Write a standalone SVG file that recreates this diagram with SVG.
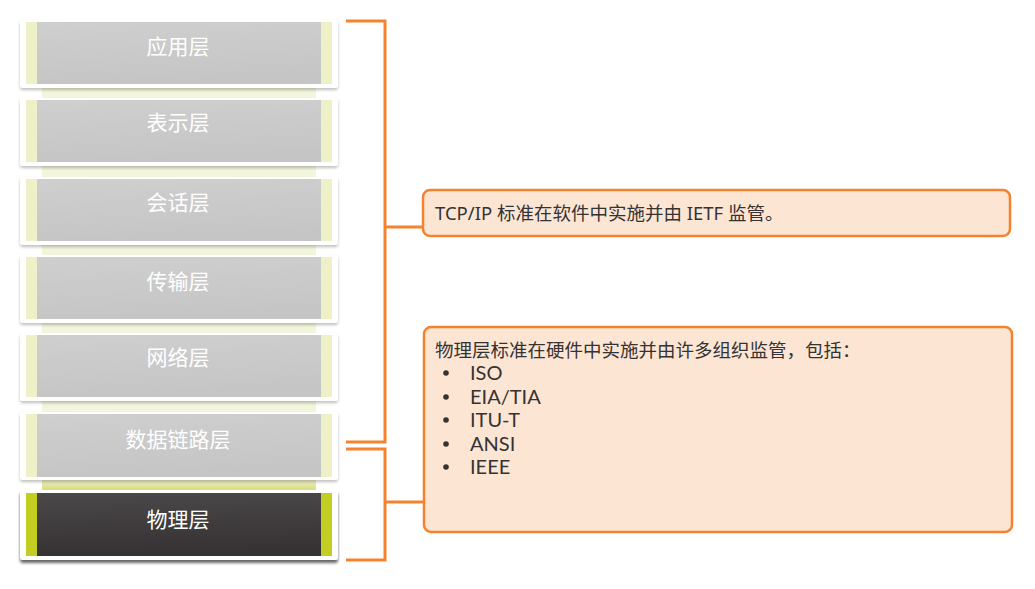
<svg xmlns="http://www.w3.org/2000/svg" width="1035" height="589" viewBox="0 0 1035 589">
<defs>
<linearGradient id="gGray" x1="0" y1="0" x2="0.2" y2="1"><stop offset="0" stop-color="#cfcfcf"/><stop offset="1" stop-color="#c5c5c5"/></linearGradient>
<linearGradient id="gDark" x1="0" y1="0" x2="0.1" y2="1"><stop offset="0" stop-color="#4b4849"/><stop offset="1" stop-color="#363233"/></linearGradient>
<linearGradient id="gLink" x1="0" y1="0" x2="0" y2="1"><stop offset="0" stop-color="#eef0c8"/><stop offset="1" stop-color="#d6dc7c"/></linearGradient>
<filter id="sh" x="-5%" y="-10%" width="110%" height="130%"><feDropShadow dx="0" dy="2" stdDeviation="1.5" flood-color="#000" flood-opacity="0.25"/></filter>
<filter id="shDark" x="-5%" y="-10%" width="110%" height="130%"><feDropShadow dx="0" dy="3" stdDeviation="1.5" flood-color="#000" flood-opacity="0.6"/></filter>
</defs>
<style>
.card{fill:#fff}
.strip{fill:#eef1c8}
.stripD{fill:#c2cf22}
.link{fill:#f3f5dc}
.lbl{font-family:"Noto Sans CJK SC","Noto Sans",sans-serif;font-size:21px;fill:#fff;text-anchor:middle}
.br{fill:none;stroke:#f5822f;stroke-width:3}
.box{fill:#fde5d4;stroke:#f5822f;stroke-width:2.5}
.t{font-family:"Noto Sans","Noto Sans CJK SC",sans-serif;font-size:18.5px;fill:#333}
.h{font-family:"Noto Sans CJK SC",sans-serif;font-size:18.5px;fill:#333}
.li{font-family:Lato,"Noto Sans",sans-serif;font-size:20px;fill:#333}
.dot{fill:#333}
</style>
<g id="links">
<rect class="link" x="42" y="88" width="274" height="10"/>
<rect class="link" x="42" y="166" width="274" height="11"/>
<rect class="link" x="42" y="245" width="274" height="10"/>
<rect class="link" x="42" y="323" width="274" height="10"/>
<rect class="link" x="42" y="401" width="274" height="11"/>
<rect x="42" y="480" width="274" height="10" fill="url(#gLink)"/>
</g>
<g id="layer-app">
<rect class="card" x="20" y="20" width="318" height="68" rx="3" filter="url(#sh)"/>
<rect class="strip" x="26" y="22" width="11" height="62"/><rect x="37" y="22" width="284" height="62" fill="url(#gGray)"/><rect class="strip" x="321" y="22" width="11" height="62"/>
<text class="lbl" x="178" y="54">应用层</text>
</g>
<g id="layer-pres">
<rect class="card" x="20" y="98" width="318" height="68" rx="3" filter="url(#sh)"/>
<rect class="strip" x="26" y="100" width="11" height="62"/><rect x="37" y="100" width="284" height="62" fill="url(#gGray)"/><rect class="strip" x="321" y="100" width="11" height="62"/>
<text class="lbl" x="178" y="130">表示层</text>
</g>
<g id="layer-sess">
<rect class="card" x="20" y="177" width="318" height="68" rx="3" filter="url(#sh)"/>
<rect class="strip" x="26" y="179" width="11" height="62"/><rect x="37" y="179" width="284" height="62" fill="url(#gGray)"/><rect class="strip" x="321" y="179" width="11" height="62"/>
<text class="lbl" x="178" y="210">会话层</text>
</g>
<g id="layer-trans">
<rect class="card" x="20" y="255" width="318" height="68" rx="3" filter="url(#sh)"/>
<rect class="strip" x="26" y="257" width="11" height="62"/><rect x="37" y="257" width="284" height="62" fill="url(#gGray)"/><rect class="strip" x="321" y="257" width="11" height="62"/>
<text class="lbl" x="178" y="289">传输层</text>
</g>
<g id="layer-net">
<rect class="card" x="20" y="333" width="318" height="68" rx="3" filter="url(#sh)"/>
<rect class="strip" x="26" y="335" width="11" height="62"/><rect x="37" y="335" width="284" height="62" fill="url(#gGray)"/><rect class="strip" x="321" y="335" width="11" height="62"/>
<text class="lbl" x="178" y="365">网络层</text>
</g>
<g id="layer-dl">
<rect class="card" x="20" y="412" width="318" height="68" rx="3" filter="url(#sh)"/>
<rect class="strip" x="26" y="414" width="11" height="63"/><rect x="37" y="414" width="284" height="63" fill="url(#gGray)"/><rect class="strip" x="321" y="414" width="11" height="63"/>
<text class="lbl" x="178" y="447">数据链路层</text>
</g>
<g id="layer-phy">
<rect class="card" x="20" y="490" width="318" height="70" rx="3" filter="url(#shDark)"/>
<rect class="stripD" x="26" y="493" width="11" height="63"/><rect x="37" y="493" width="284" height="63" fill="url(#gDark)"/><rect class="stripD" x="321" y="493" width="11" height="63"/>
<text class="lbl" x="178" y="527">物理层</text>
</g>
<g id="connectors">
<polyline class="br" points="346,21 385,21 385,442 346,442"/>
<line class="br" x1="385" y1="227" x2="423" y2="227"/>
<polyline class="br" points="346,449 385,449 385,560 346,560"/>
<line class="br" x1="385" y1="502" x2="424" y2="502"/>
</g>
<g id="note-tcpip">
<rect class="box" x="423" y="190" width="587" height="46" rx="7"/>
<text class="t" x="435" y="220">TCP/IP 标准在软件中实施并由 IETF 监管。</text>
</g>
<g id="note-phy">
<rect class="box" x="424" y="327" width="588" height="205" rx="7"/>
<text class="h" x="435" y="357">物理层标准在硬件中实施并由许多组织监管，包括：</text>
<circle class="dot" cx="446" cy="373" r="2.8"/><text class="li" x="470" y="380">ISO</text>
<circle class="dot" cx="446" cy="397" r="2.8"/><text class="li" x="470" y="404">EIA/TIA</text>
<circle class="dot" cx="446" cy="420" r="2.8"/><text class="li" x="470" y="427">ITU-T</text>
<circle class="dot" cx="446" cy="444" r="2.8"/><text class="li" x="470" y="451">ANSI</text>
<circle class="dot" cx="446" cy="467" r="2.8"/><text class="li" x="470" y="474">IEEE</text>
</g>
</svg>
